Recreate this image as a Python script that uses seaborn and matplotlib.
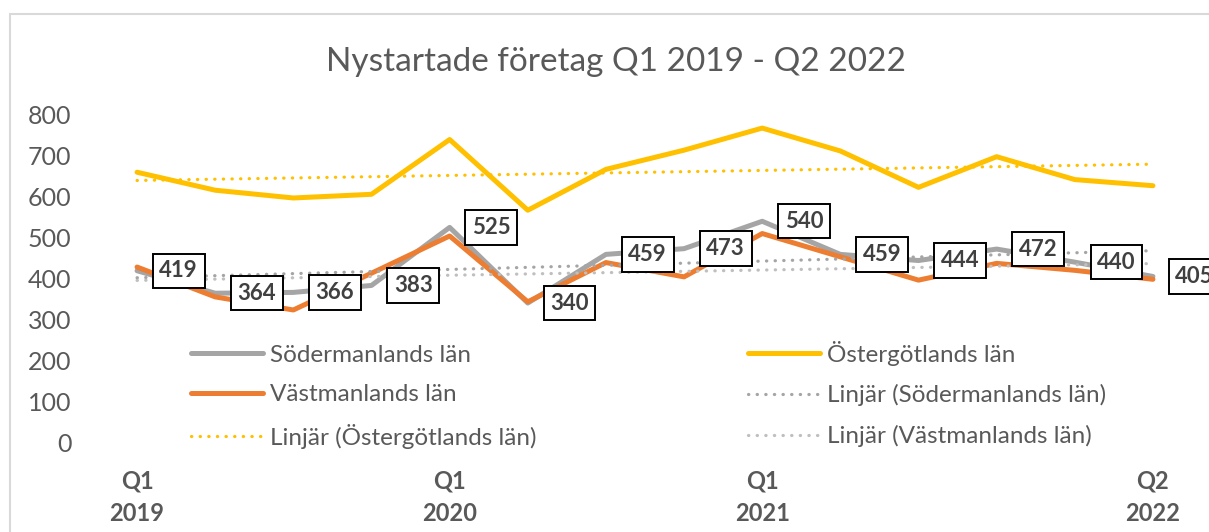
import numpy as np
import pandas as pd
import matplotlib
matplotlib.use("Agg")
import matplotlib.pyplot as plt
import seaborn as sns
from matplotlib.lines import Line2D
from matplotlib.patches import Rectangle

# data
quarters = ['Q1 2019', 'Q2 2019', 'Q3 2019', 'Q4 2019',
            'Q1 2020', 'Q2 2020', 'Q3 2020', 'Q4 2020',
            'Q1 2021', 'Q2 2021', 'Q3 2021', 'Q4 2021',
            'Q1 2022', 'Q2 2022']
sodermanland = [419, 364, 366, 383, 525, 340, 459, 473, 540, 459, 444, 472, 440, 405]
ostergotland = [660, 616, 597, 606, 740, 567, 667, 714, 768, 712, 623, 698, 642, 627]
vastmanland = [428, 355, 323, 413, 504, 343, 439, 404, 510, 453, 396, 437, 420, 398]
tick_labels = {0: 'Q1\n2019', 4: 'Q1\n2020', 8: 'Q1\n2021', 13: 'Q2\n2022'}

sns.set_theme(style="white")
plt.rcParams['font.family'] = ['Lato', 'DejaVu Sans']

text_col = '#595959'
c_sod = '#A5A5A5'
c_ost = '#FFC000'
c_vast = '#ED7D31'

df = pd.DataFrame({
    'idx': np.arange(len(quarters)),
    'Södermanlands län': sodermanland,
    'Östergötlands län': ostergotland,
    'Västmanlands län': vastmanland,
})

fig = plt.figure(figsize=(12.09, 5.32), dpi=100)
ax = fig.add_axes([98 / 1209, 90 / 532, 1094 / 1209, 327 / 532])

# chart area border
fig.patches.append(Rectangle((10 / 1209, -0.1), 1.2, 1.1 - 14 / 532,
                             transform=fig.transFigure, fill=False,
                             edgecolor='#D9D9D9', lw=1.5))

lw = 3.6
sns.lineplot(data=df, x='idx', y='Södermanlands län', ax=ax, color=c_sod, lw=lw,
             solid_capstyle='round', clip_on=False)
sns.lineplot(data=df, x='idx', y='Östergötlands län', ax=ax, color=c_ost, lw=lw,
             solid_capstyle='round', clip_on=False)
sns.lineplot(data=df, x='idx', y='Västmanlands län', ax=ax, color=c_vast, lw=lw,
             solid_capstyle='round', clip_on=False)

# linear trendlines
dot = dict(lw=2.3, linestyle=(0, (0.1, 2.6)), dash_capstyle='round')
sns.regplot(data=df, x='idx', y='Södermanlands län', ax=ax, scatter=False, ci=None,
            line_kws=dict(color=c_sod, **dot))
sns.regplot(data=df, x='idx', y='Östergötlands län', ax=ax, scatter=False, ci=None,
            line_kws=dict(color=c_ost, **dot))
sns.regplot(data=df, x='idx', y='Västmanlands län', ax=ax, scatter=False, ci=None,
            line_kws=dict(color='#BFBFBF', **dot))

# data labels for Södermanland
for i, v in enumerate(sodermanland):
    ax.annotate(str(v), (i, v), xytext=(30, 0), textcoords='offset points',
                ha='center', va='center', fontsize=16, fontweight='bold',
                color='#404040', annotation_clip=False,
                bbox=dict(boxstyle='square,pad=0.3', fc='white', ec='black', lw=1.4))

ax.set_xlim(-0.5, 13.5)
ax.set_ylim(0, 800)
ax.set_yticks(range(0, 801, 100))
ax.set_xticks(range(len(quarters)))
ax.set_xticklabels([tick_labels.get(i, '') for i in range(len(quarters))],
                   fontweight='bold', linespacing=1.5)
ax.tick_params(axis='x', labelsize=17, colors=text_col, length=0, pad=20)
ax.tick_params(axis='y', labelsize=18, colors=text_col, length=0, pad=19)
ax.set_xlabel('')
ax.set_ylabel('')
sns.despine(ax=ax, left=True, bottom=True)

fig.text(0.5095, 1 - 71 / 532, 'Nystartade företag Q1 2019 - Q2 2022',
         ha='center', va='baseline', fontsize=24, color=text_col)

# legend, column-major order so rows read like the original
h_sod = Line2D([], [], color=c_sod, lw=lw)
h_ost = Line2D([], [], color=c_ost, lw=lw)
h_vast = Line2D([], [], color=c_vast, lw=lw)
h_tsod = Line2D([], [], color=c_sod, **dot)
h_tost = Line2D([], [], color=c_ost, **dot)
h_tvast = Line2D([], [], color='#BFBFBF', **dot)
handles = [h_sod, h_vast, h_tost, h_ost, h_tsod, h_tvast]
labels = ['Södermanlands län', 'Västmanlands län', 'Linjär (Östergötlands län)',
          'Östergötlands län', 'Linjär (Södermanlands län)', 'Linjär (Västmanlands län)']
leg = fig.legend(handles, labels, ncol=2, loc='upper left',
                 bbox_to_anchor=(169 / 1209, 1 - 319 / 532), frameon=False,
                 fontsize=17.5, handlelength=2.96, handletextpad=0.3,
                 columnspacing=8.7, labelspacing=0.76)
for t in leg.get_texts():
    t.set_color(text_col)

fig.savefig('out.png', dpi=100)
